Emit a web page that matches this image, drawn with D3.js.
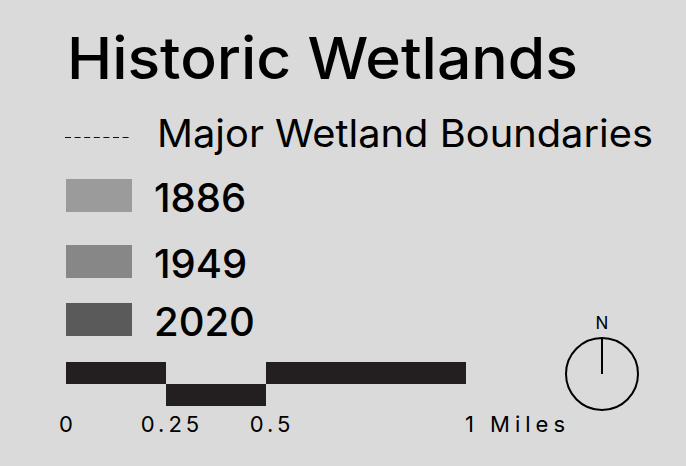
<!DOCTYPE html>
<html>
<head>
<meta charset="utf-8">
<script src="https://cdn.jsdelivr.net/npm/d3@7"></script>
<style>
  body { margin: 0; background: #dadada; }
  svg { display: block; }
</style>
</head>
<body>
<script>
// legend content
const title = 'Historic Wetlands';
const boundaryLabel = 'Major Wetland Boundaries';
const years = ['1886', '1949', '2020'];
const yearColors = ['#9b9b9b', '#878787', '#5a5a5a'];

// scale bar (miles)
const barSegments = [
  {from: 0, to: 0.25, row: 0},
  {from: 0.25, to: 0.5, row: 1},
  {from: 0.5, to: 1, row: 0}
];
const barTicks = [0, 0.25, 0.5];
const barTickLabels = ['0', '0.25', '0.5'];
const endLabel = '1 Miles';

const width = 686;
const height = 466;
const font = 'Inter, "Noto Sans", sans-serif';

const svg = d3.select('body')
  .append('svg')
  .attr('width', width)
  .attr('height', height);

svg.append('rect')
  .attr('width', width)
  .attr('height', height)
  .attr('fill', '#dadada');

// title
svg.append('text')
  .attr('x', 67)
  .attr('y', 79)
  .attr('font-family', font)
  .attr('font-size', 58)
  .attr('font-weight', 500)
  .attr('textLength', 511)
  .attr('lengthAdjust', 'spacingAndGlyphs')
  .attr('fill', '#000')
  .text(title);

// dashed boundary line + label
svg.append('line')
  .attr('x1', 65).attr('x2', 132)
  .attr('y1', 137.5).attr('y2', 137.5)
  .attr('stroke', '#111')
  .attr('stroke-width', 1)
  .attr('stroke-dasharray', '6,3.6');

svg.append('text')
  .attr('x', 157)
  .attr('y', 147)
  .attr('font-family', font)
  .attr('font-size', 38)
  .attr('textLength', 496)
  .attr('lengthAdjust', 'spacingAndGlyphs')
  .attr('fill', '#000')
  .text(boundaryLabel);

// year swatches
const rowY = d3.scaleOrdinal().domain(years).range([179, 245, 303]);
const color = d3.scaleOrdinal().domain(years).range(yearColors);

const rows = svg.append('g')
  .selectAll('g')
  .data(years)
  .join('g')
  .attr('transform', d => `translate(0,${rowY(d)})`);

rows.append('rect')
  .attr('x', 66)
  .attr('width', 66)
  .attr('height', 33)
  .attr('fill', d => color(d));

rows.append('text')
  .attr('x', 154)
  .attr('y', 33)
  .attr('font-family', font)
  .attr('font-size', 40)
  .attr('font-weight', 500)
  .attr('fill', '#000')
  .text(d => d);

// scale bar
const xMiles = d3.scaleLinear().domain([0, 1]).range([66, 466]);
const barTop = 362;
const barH = 22;

svg.append('g')
  .selectAll('rect')
  .data(barSegments)
  .join('rect')
  .attr('x', d => xMiles(d.from))
  .attr('y', d => barTop + d.row * barH)
  .attr('width', d => xMiles(d.to) - xMiles(d.from))
  .attr('height', barH)
  .attr('fill', '#231f20');

svg.append('g')
  .selectAll('text')
  .data(barTicks)
  .join('text')
  .attr('x', d => xMiles(d) + (d === 0 ? 2 : 6))
  .attr('y', 432)
  .attr('text-anchor', 'middle')
  .attr('font-family', font)
  .attr('font-size', 22)
  .attr('letter-spacing', 4)
  .attr('fill', '#000')
  .text((d, i) => barTickLabels[i]);

svg.append('text')
  .attr('x', xMiles(1) - 1)
  .attr('y', 432)
  .attr('font-family', font)
  .attr('font-size', 22)
  .attr('textLength', 100)
  .attr('lengthAdjust', 'spacing')
  .attr('fill', '#000')
  .text(endLabel);

// north arrow
const compass = svg.append('g').attr('transform', 'translate(602,374)');
compass.append('circle')
  .attr('r', 36)
  .attr('fill', 'none')
  .attr('stroke', '#000')
  .attr('stroke-width', 2);
compass.append('line')
  .attr('x1', 0).attr('x2', 0)
  .attr('y1', -36).attr('y2', 0)
  .attr('stroke', '#000')
  .attr('stroke-width', 2);
compass.append('text')
  .attr('y', -45)
  .attr('text-anchor', 'middle')
  .attr('font-family', font)
  .attr('font-size', 17)
  .attr('fill', '#000')
  .text('N');
</script>
</body>
</html>
